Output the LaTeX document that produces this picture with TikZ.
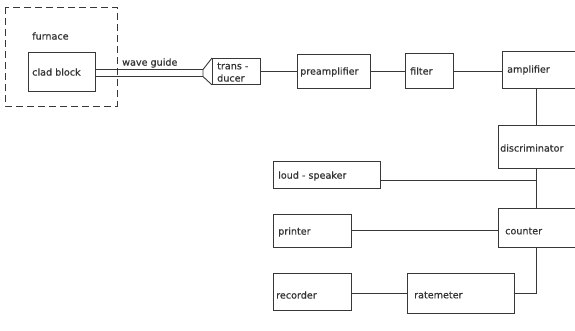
\documentclass[tikz,border=0pt]{standalone}
\usepackage{fontspec}
\setmainfont{DejaVu Sans}[BoldFont={DejaVu Sans}, BoldFeatures={FakeBold=0.6}]
\begin{document}
\begin{tikzpicture}[x=1pt,y=-1pt,
  ln/.style={draw=black!78, line width=0.9pt},
  box/.style={ln, rectangle, inner sep=0pt, anchor=north west},
  txt/.style={anchor=west, inner sep=0pt, font=\fontsize{9.6}{11}\selectfont\bfseries, text=black!80}]
\useasboundingbox (0,0) rectangle (575,330);
\clip (0,0) rectangle (575,330);
% furnace
\draw[ln, dash pattern=on 7pt off 4pt] (5,7) rectangle (117,106);
\node[txt] (furnace) at (32,36) {furnace};
% boxes
\node[box, minimum width=67pt, minimum height=39pt] (clad) at (28,52) {};
\node[box, minimum width=48pt, minimum height=26pt] (trans) at (212,58) {};
\node[box, minimum width=73pt, minimum height=34pt] (pre) at (297,54) {};
\node[box, minimum width=48pt, minimum height=35pt] (filter) at (405,53) {};
\node[box, minimum width=90pt, minimum height=37pt] (amp) at (502,51) {};
\node[box, minimum width=94pt, minimum height=43pt] (disc) at (498,125) {};
\node[box, minimum width=107pt, minimum height=27pt] (loud) at (273,161) {};
\node[box, minimum width=94pt, minimum height=39pt] (counter) at (498,208) {};
\node[box, minimum width=78pt, minimum height=33pt] (printer) at (273,214) {};
\node[box, minimum width=78pt, minimum height=37pt] (recorder) at (273,273) {};
\node[box, minimum width=107pt, minimum height=40pt] (rate) at (407,273) {};
% texts
\node[txt] (tclad) at (32,72) {clad block};
\node[txt] (twave) at (122,63) {wave guide};
\node[txt] (ttrans) at (217,66) {trans -};
\node[txt] (tducer) at (217,78) {ducer};
\node[txt] (tpre) at (300,72) {preamplifier};
\node[txt] (tfilter) at (410,71) {filter};
\node[txt] (tamp) at (507,70) {amplifier};
\node[txt] (tdisc) at (500,148) {discriminator};
\node[txt] (tloud) at (278,176) {loud - speaker};
\node[txt] (tcounter) at (505,231) {counter};
\node[txt] (tprinter) at (278,232) {printer};
\node[txt] (trecorder) at (276,295) {recorder};
\node[txt] (trate) at (414,295) {ratemeter};
% wave guide and horn
\coordinate (hornA) at (203,69.5);
\coordinate (hornB) at (203,76.5);
\draw[ln] (clad.east |- hornA) -- (hornA);
\draw[ln] (clad.east |- hornB) -- (hornB);
\draw[ln] (trans.north west) -- (hornA) -- (hornB) -- (trans.south west);
% connectors
\coordinate (vx) at (536,0);
\coordinate (hy) at (0,71);
\draw[ln] (trans.east) -- (pre.west);
\draw[ln] (pre.east |- hy) -- (filter.west |- hy);
\draw[ln] (filter.east |- hy) -- (amp.west |- hy);
\draw[ln] (amp.south -| vx) -- (disc.north -| vx);
\draw[ln] (disc.south -| vx) -- (counter.north -| vx);
\coordinate (ly) at (0,180);
\draw[ln] (loud.east |- ly) -- (vx |- ly);
\coordinate (py) at (0,230);
\draw[ln] (printer.east |- py) -- (counter.west |- py);
\coordinate (ry) at (0,293);
\draw[ln] (recorder.east |- ry) -- (rate.west |- ry);
\draw[ln] (rate.east |- ry) -- (vx |- ry) -- (counter.south -| vx);
\end{tikzpicture}
\end{document}
